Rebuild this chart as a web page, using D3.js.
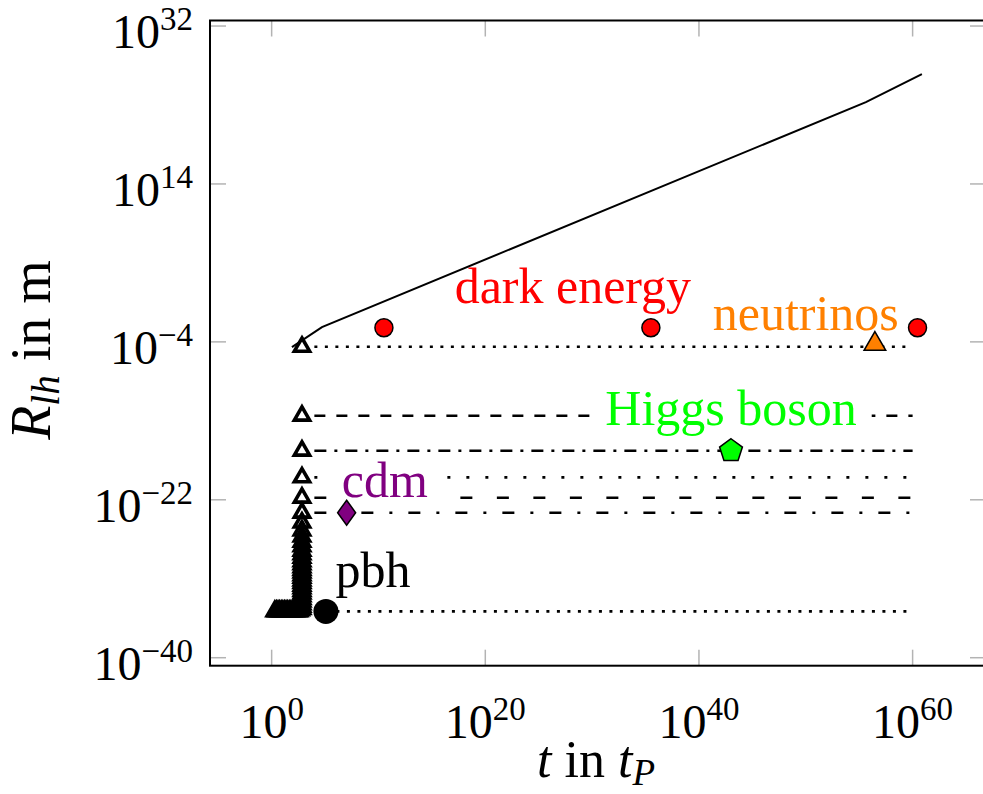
<!DOCTYPE html>
<html>
<head>
<meta charset="utf-8">
<title>R_lh over t</title>
<style>
  body { margin: 0; background: #fff; }
  text { font-family: "Liberation Serif", "DejaVu Serif", serif; }
</style>
</head>
<body>
<svg id="chart" width="983" height="794"></svg>
<script src="https://cdn.jsdelivr.net/npm/d3@7/dist/d3.min.js"></script>
<script>
// every value is a log10 exponent (t in t_P, R in m)
var xTicks = [0, 20, 40, 60];
var yTicks = [-40, -22, -4, 14, 32];

// light horizon curve
var horizonT = [1.9, 4.71, 55.63, 60.87];
var horizonR = [-4.59, -2.31, 23.33, 26.52];

// open triangle marks (column + hook at the bottom)
var triangleT = [2.84, 2.84, 2.84, 2.84, 2.84, 2.84, 2.84, 2.84, 2.84, 2.84,
                 2.84, 2.84, 2.84, 2.84, 2.84, 2.84, 2.84, 2.84, 2.84, 2.84,
                 2.84, 2.84, 2.84, 2.84, 2.84, 2.84, 2.84, 2.84, 2.84, 2.84,
                 2.84, 2.84, 2.84, 2.7, 2.55, 2.4, 2.25, 2.1, 1.95, 1.8,
                 1.65, 1.5, 1.35, 1.2, 1.05, 0.9, 0.75, 0.6, 0.45, 0.3];
var triangleR = [-4.56, -12.42, -16.41, -19.44, -21.76, -23.47, -24.6, -25.5, -26.2, -26.8,
                 -27.3, -27.8, -28.2, -28.6, -29.0, -29.35, -29.7, -30.0, -30.3, -30.6,
                 -30.9, -31.2, -31.5, -31.8, -32.1, -32.4, -32.7, -33.0, -33.3, -33.6,
                 -33.9, -34.2, -34.45, -34.6, -34.7, -34.7, -34.7, -34.7, -34.7, -34.7,
                 -34.7, -34.7, -34.7, -34.7, -34.7, -34.7, -34.7, -34.7, -34.7, -34.7];

// horizontal levels
var levelR = [-4.56, -12.42, -16.41, -19.44, -21.76, -23.47];
var levelStyle = ["dotted", "dashed", "dashdotted", "loosely dotted", "loosely dashed", "loosely dashdotted"];
var levelFrom = 4.0;
var levelTo = 60;

var pbhT = 5.08;
var pbhR = -34.72;

var darkEnergyT = [10.51, 35.5, 60.46];
var darkEnergyR = -2.39;
var neutrinoT = 56.47, neutrinoR = -4.25;
var higgsT = 43.0, higgsR = -16.41;
var cdmT = 7.02, cdmR = -23.47;

var labelText = ["dark energy", "neutrinos", "Higgs boson", "cdm", "pbh"];
var labelT = [28.2, 50.0, 43.0, 10.6, 9.48];
var labelR = [0.46, -2.65, -13.48, -21.65, -31.91];
var labelColor = ["#ff0000", "#ff8000", "#00ff00", "#800080", "#000000"];

var svg = d3.select("#chart");
var pLeft = 210, pRight = 986, pTop = 20.5, pBottom = 665.7;

var x = d3.scaleLinear().domain([-5.77, 66.87]).range([pLeft, pRight]);
var y = d3.scaleLinear().domain([-40.91, 32.63]).range([pBottom, pTop]);

var dashes = {
  "dotted": "3,7.5",
  "dashed": "11,11",
  "dashdotted": "12,8,3,8",
  "loosely dotted": "3,16",
  "loosely dashed": "12,24.5",
  "loosely dashdotted": "12,16,3,16"
};

// ticks, inside on all four sides
var tickLen = 16;
var g = svg.append("g").attr("stroke", "#b3b3b3").attr("stroke-width", 1.5);
xTicks.forEach(function(d) {
  g.append("line").attr("x1", x(d)).attr("x2", x(d)).attr("y1", pBottom).attr("y2", pBottom - tickLen);
  g.append("line").attr("x1", x(d)).attr("x2", x(d)).attr("y1", pTop).attr("y2", pTop + tickLen);
});
yTicks.forEach(function(d) {
  g.append("line").attr("x1", pLeft).attr("x2", pLeft + tickLen).attr("y1", y(d)).attr("y2", y(d));
  g.append("line").attr("x1", pRight).attr("x2", pRight - tickLen).attr("y1", y(d)).attr("y2", y(d));
});

function sup(d) { return d < 0 ? "\u2212" + (-d) : "" + d; }

xTicks.forEach(function(d) {
  var t = svg.append("text").attr("x", x(d)).attr("y", 738)
    .attr("text-anchor", "middle").attr("font-size", 48).text("10");
  t.append("tspan").attr("dy", -18).attr("font-size", 33).text(sup(d));
});
yTicks.forEach(function(d) {
  var t = svg.append("text").attr("x", 193).attr("y", y(d) + 22)
    .attr("text-anchor", "end").attr("font-size", 48).text("10");
  t.append("tspan").attr("dy", -18).attr("font-size", 33).text(sup(d));
});

var line = d3.line().x(function(d) { return x(d[0]); }).y(function(d) { return y(d[1]); });

// levels
levelR.forEach(function(r, i) {
  svg.append("path")
    .datum([[levelFrom, r], [levelTo, r]])
    .attr("d", line)
    .attr("fill", "none").attr("stroke", "#000").attr("stroke-width", 2.6)
    .attr("stroke-dasharray", dashes[levelStyle[i]]);
});
svg.append("path")
  .datum([[pbhT, pbhR], [levelTo, pbhR]])
  .attr("d", line)
  .attr("fill", "none").attr("stroke", "#000").attr("stroke-width", 2.6)
  .attr("stroke-dasharray", dashes["dotted"]);

// annotations with white background
labelText.forEach(function(s, i) {
  var lg = svg.append("g");
  var bg = lg.append("rect").attr("fill", "#fff");
  var t = lg.append("text")
    .attr("x", x(labelT[i])).attr("y", y(labelR[i]))
    .attr("text-anchor", "middle").attr("font-size", 50)
    .attr("fill", labelColor[i]).text(s);
  var b = t.node().getBBox();
  bg.attr("x", b.x - 15).attr("y", b.y + 4).attr("width", b.width + 30).attr("height", b.height - 6);
});

// horizon curve
svg.append("path")
  .datum(d3.zip(horizonT, horizonR))
  .attr("d", line)
  .attr("fill", "none").attr("stroke", "#000").attr("stroke-width", 2);

function triPath(r) {
  return "M0," + (-r) + "L" + (0.866 * r) + "," + (0.5 * r) + "L" + (-0.866 * r) + "," + (0.5 * r) + "Z";
}
function polyPath(n, r) {
  var p = [];
  for (var k = 0; k < n; k++) {
    var a = -Math.PI / 2 + k * 2 * Math.PI / n;
    p.push([r * Math.cos(a), r * Math.sin(a)]);
  }
  return "M" + p.join("L") + "Z";
}

// open triangles
svg.append("g").selectAll("path")
  .data(d3.zip(triangleT, triangleR))
  .join("path")
  .attr("transform", function(d) { return "translate(" + x(d[0]) + "," + y(d[1]) + ")"; })
  .attr("d", triPath(8.8))
  .attr("fill", "none").attr("stroke", "#000").attr("stroke-width", 3.6)
  .attr("stroke-linejoin", "miter");

// dark energy
svg.append("g").selectAll("circle")
  .data(darkEnergyT)
  .join("circle")
  .attr("cx", function(d) { return x(d); }).attr("cy", y(darkEnergyR)).attr("r", 9)
  .attr("fill", "#ff0000").attr("stroke", "#000").attr("stroke-width", 1.5);

// neutrinos
svg.append("path")
  .attr("transform", "translate(" + x(neutrinoT) + "," + y(neutrinoR) + ")")
  .attr("d", triPath(12.5))
  .attr("fill", "#ff8000").attr("stroke", "#000").attr("stroke-width", 1.5);

// Higgs
svg.append("path")
  .attr("transform", "translate(" + x(higgsT) + "," + y(higgsR) + ")")
  .attr("d", polyPath(5, 12))
  .attr("fill", "#00ff00").attr("stroke", "#000").attr("stroke-width", 1.5);

// cdm
svg.append("path")
  .attr("transform", "translate(" + x(cdmT) + "," + y(cdmR) + ")")
  .attr("d", "M0,-12.5L9,0L0,12.5L-9,0Z")
  .attr("fill", "#800080").attr("stroke", "#000").attr("stroke-width", 1.5);

// pbh
svg.append("circle")
  .attr("cx", x(pbhT)).attr("cy", y(pbhR)).attr("r", 12.5)
  .attr("fill", "#000");

// axis titles
var xt = svg.append("text").attr("x", 596).attr("y", 777)
  .attr("text-anchor", "middle").attr("font-size", 52);
xt.append("tspan").attr("font-style", "italic").text("t");
xt.append("tspan").text(" in ");
xt.append("tspan").attr("font-style", "italic").text("t");
xt.append("tspan").attr("font-style", "italic").attr("font-size", 37).attr("dy", 8).text("P");

var yt = svg.append("text").attr("transform", "translate(50,350) rotate(-90)")
  .attr("text-anchor", "middle").attr("font-size", 56);
yt.append("tspan").attr("font-style", "italic").text("R");
yt.append("tspan").attr("font-style", "italic").attr("font-size", 39).attr("dy", 9).text("lh");
yt.append("tspan").attr("dy", -9).text(" in m");

// frame
svg.append("rect")
  .attr("x", pLeft).attr("y", pTop).attr("width", pRight - pLeft).attr("height", pBottom - pTop)
  .attr("fill", "none").attr("stroke", "#000").attr("stroke-width", 2);
</script>
</body>
</html>
